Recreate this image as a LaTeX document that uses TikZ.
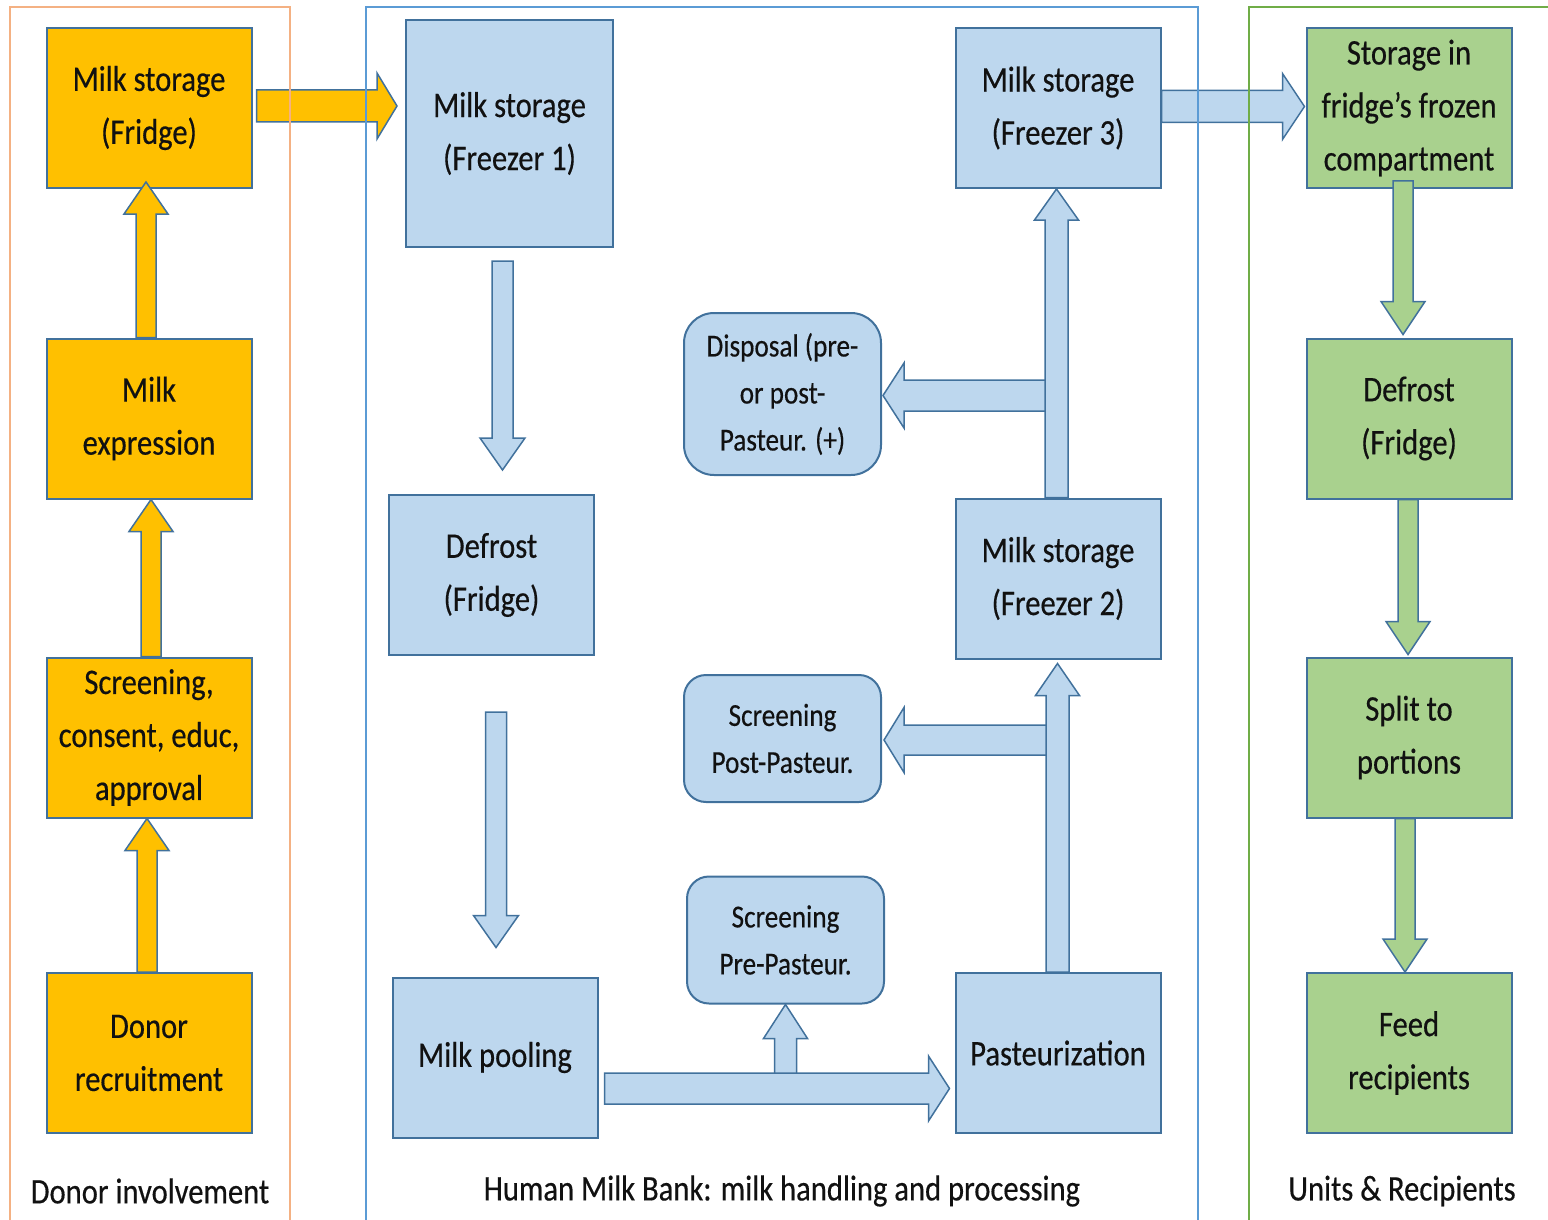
\documentclass[tikz,border=0pt]{standalone}
\usepackage{fontspec}
\setmainfont{Carlito}[FakeStretch=0.85,FakeBold=0.4]
\usetikzlibrary{calc}
\definecolor{orgfill}{HTML}{FFC000}
\definecolor{bluefill}{HTML}{BDD7EE}
\definecolor{greenfill}{HTML}{A9D18E}
\definecolor{boxline}{HTML}{41719C}
\definecolor{orgframe}{HTML}{F4B183}
\definecolor{blueframe}{HTML}{5B9BD5}
\definecolor{greenframe}{HTML}{70AD47}
\definecolor{txt}{HTML}{111111}
\newcommand{\bigtxt}{\fontsize{36}{53}\selectfont}
\newcommand{\smalltxt}{\fontsize{32}{47}\selectfont}
\tikzset{
  shaftw/.store in=\blkshaft, headw/.store in=\blkhead, headl/.store in=\blklen,
  shaftw=10.5pt, headw=22.5pt, headl=32pt,
  blockarrow/.style={draw=boxline,line width=1.5pt,line join=miter,to path={
    ($(\tikztostart)!\blkshaft!90:(\tikztotarget)$)
    -- ($(\tikztotarget)!\blklen!(\tikztostart)!\blkshaft!-90:(\tikztostart)$)
    -- ($(\tikztotarget)!\blklen!(\tikztostart)!\blkhead!-90:(\tikztostart)$)
    -- (\tikztotarget)
    -- ($(\tikztotarget)!\blklen!(\tikztostart)!\blkhead!90:(\tikztostart)$)
    -- ($(\tikztotarget)!\blklen!(\tikztostart)!\blkshaft!90:(\tikztostart)$)
    -- ($(\tikztostart)!\blkshaft!-90:(\tikztotarget)$) -- cycle}},
  hz/.style={shaftw=15.5pt,headw=32.5pt,headl=21pt},
  oarrow/.style={blockarrow,fill=orgfill},
  barrow/.style={blockarrow,fill=bluefill},
  garrow/.style={blockarrow,fill=greenfill},
  box/.style={draw=boxline,line width=2pt,minimum width=205pt,minimum height=160pt,
    align=center,inner sep=0pt,text=txt,font=\bigtxt},
  obox/.style={box,fill=orgfill},
  bbox/.style={box,fill=bluefill},
  gbox/.style={box,fill=greenfill},
  rbox/.style={bbox,rounded corners=22pt,minimum width=197pt,minimum height=127pt,font=\smalltxt},
  frame/.style={line width=1.5pt},
  lbl/.style={text=txt,font=\bigtxt,inner sep=0pt}
}
\begin{document}
\begin{tikzpicture}[x=1pt,y=-1pt]
\useasboundingbox (0,0) rectangle (1548,1220);
% donor column
\node[obox] (ofr) at (149,108) {Milk storage\\(Fridge)};
\node[obox] (oex) at (149,418.5) {Milk\\expression};
\node[obox] (osc) at (149,737.5) {Screening,\\consent, educ,\\approval};
\node[obox] (orc) at (149,1053) {Donor\\recruitment};
% milk bank
\node[bbox,minimum width=207pt,minimum height=227pt] (fz1) at (509.5,133.5) {Milk storage\\(Freezer 1)};
\node[bbox] (bdf) at (491.5,575) {Defrost\\(Fridge)};
\node[bbox] (pool) at (495,1057.5) {Milk pooling};
\node[bbox] (past) at (1058,1053) {Pasteurization};
\node[bbox] (fz2) at (1058,578.5) {Milk storage\\(Freezer 2)};
\node[bbox] (fz3) at (1058,108) {Milk storage\\(Freezer 3)};
\node[rbox,minimum height=162pt,rounded corners=30pt] (disp) at (782.5,394) {Disposal (pre-\\or post-\\Pasteur. (+)};
\node[rbox] (spost) at (782.5,738.5) {Screening\\Post-Pasteur.};
\node[rbox] (spre) at (785.5,940) {Screening\\Pre-Pasteur.};
% units
\node[gbox] (gst) at (1409,108) {Storage in\\fridge’s frozen\\compartment};
\node[gbox] (gdf) at (1409,418.5) {Defrost\\(Fridge)};
\node[gbox] (gsp) at (1409,737.5) {Split to\\portions};
\node[gbox] (gfd) at (1409,1053) {Feed\\recipients};
% arrow ends
\coordinate (o1s) at ($(orc.north)+(-2,0)$);
\coordinate (o1e) at ($(osc.south)+(-2,0)$);
\coordinate (o2s) at ($(osc.north)+(2,0)$);
\coordinate (o2e) at ($(oex.south)+(2,0)$);
\coordinate (o3s) at ($(oex.north)+(-3,0)$);
\coordinate (o3e) at ($(ofr.south)+(-3,-7)$);
\coordinate (o4s) at ($(ofr.east)+(4,-2)$);
\coordinate (o4e) at ($(o4s -| fz1.west)+(-8,0)$);
\coordinate (b1s) at ($(fz1.south)+(-7,13)$);
\coordinate (b1e) at ($(b1s |- bdf.north)+(0,-24)$);
\coordinate (b2s) at ($(bdf.south)+(4.5,56)$);
\coordinate (b2e) at ($(b2s |- pool.north)+(0,-29)$);
\coordinate (b3s) at ($(pool.east)+(6,31)$);
\coordinate (b3e) at ($(b3s -| past.west)+(-5,0)$);
\coordinate (b4s) at ($(b3s -| spre.south)+(0,-10)$);
\coordinate (b5s) at ($(past.north)+(-0.5,0)$);
\coordinate (b5e) at ($(fz2.south)+(-0.5,4)$);
\coordinate (b6s) at ($(b5s |- spost.east)+(0,1.5)$);
\coordinate (b6e) at ($(spost.east)+(2,1.5)$);
\coordinate (b7s) at ($(fz2.north)+(-1.5,0)$);
\coordinate (b7e) at ($(fz3.south)+(-1.5,0)$);
\coordinate (b8s) at ($(b7s |- disp.east)+(0,1.5)$);
\coordinate (b8e) at ($(disp.east)+(1,1.5)$);
\coordinate (b9s) at ($(fz3.east)+(0,-1.5)$);
\coordinate (b9e) at ($(b9s -| gst.west)+(-1,0)$);
\coordinate (g1s) at ($(gst.south)+(-6,-8)$);
\coordinate (g1e) at ($(g1s |- gdf.north)+(0,-3)$);
\coordinate (g2s) at ($(gdf.south)+(-1,0)$);
\coordinate (g2e) at ($(g2s |- gsp.north)+(0,-2)$);
\coordinate (g3s) at ($(gsp.south)+(-4,0)$);
\coordinate (g3e) at (g3s |- gfd.north);
% arrows
\draw[oarrow,shaftw=10pt,headw=22pt] (o1s) to (o1e);
\draw[oarrow,shaftw=10pt,headw=22pt] (o2s) to (o2e);
\draw[oarrow,shaftw=10pt,headw=22pt] (o3s) to (o3e);
\draw[oarrow,hz,shaftw=16pt,headw=33pt,headl=20pt] (o4s) to (o4e);
\draw[barrow] (b1s) to (b1e);
\draw[barrow] (b2s) to (b2e);
\draw[barrow,shaftw=11pt,headw=22pt,headl=34pt] (b4s) to (spre.south);
\draw[barrow,hz] (b3s) to (b3e);
\draw[barrow,hz,shaftw=15pt,headl=20pt] (b6s) to (b6e);
\draw[barrow,shaftw=11.5pt,headw=22pt] (b5s) to (b5e);
\draw[barrow,hz,headl=21pt] (b8s) to (b8e);
\draw[barrow,shaftw=11.5pt,headw=22pt,headl=31pt] (b7s) to (b7e);
\draw[barrow,hz,shaftw=16pt,headw=33pt,headl=22pt] (b9s) to (b9e);
\draw[garrow,shaftw=10pt,headw=22pt,headl=33pt] (g1s) to (g1e);
\draw[garrow,shaftw=10pt,headw=22pt,headl=33pt] (g2s) to (g2e);
\draw[garrow,shaftw=10pt,headw=22pt,headl=33pt] (g3s) to (g3e);
% frames
\draw[frame,orgframe] (10,1225) |- (290,7) -- (290,1225);
\draw[frame,blueframe] (366,1225) |- (1198,7) -- (1198,1225);
\draw[frame,greenframe] (1249,1225) |- (1560,7);
\node[lbl] (ldon) at (150,1191) {Donor involvement};
\node[lbl] (lhmb) at (782,1191) {Human Milk Bank: milk handling and processing};
\node[lbl] (lrec) at (1402,1191) {Units \& Recipients};
\end{tikzpicture}
\end{document}
